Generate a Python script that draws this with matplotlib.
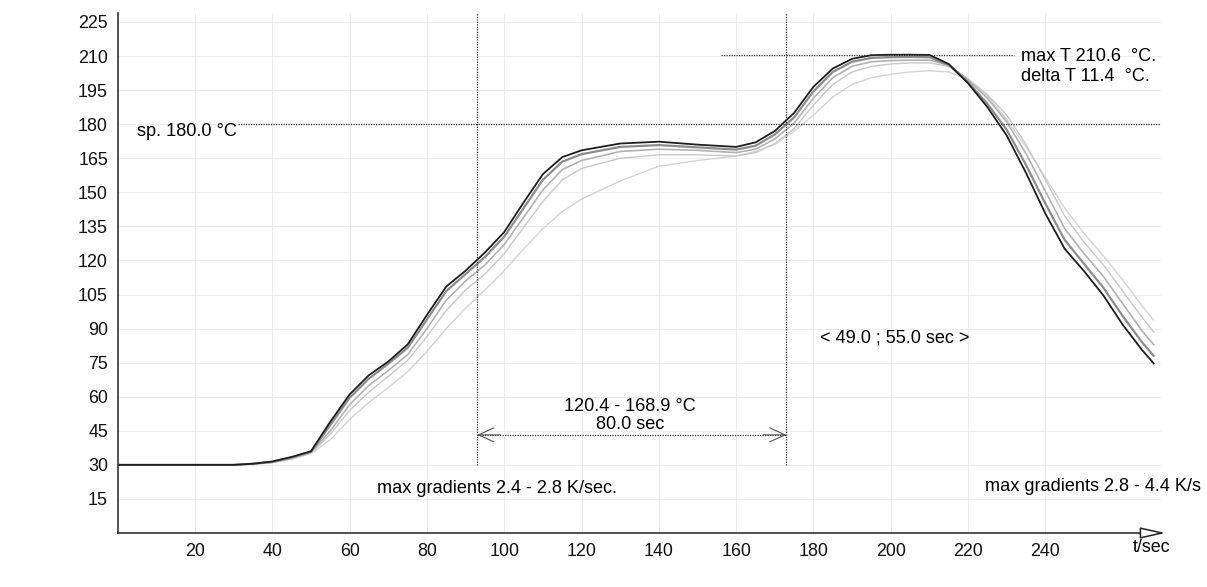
import matplotlib
matplotlib.use("Agg")
import matplotlib.pyplot as plt

plt.rcParams['font.family'] = ['Liberation Sans', 'DejaVu Sans']

# ---- data ----
t_sec = [0, 10, 20, 30, 35, 40, 45, 50, 55, 60, 65, 70, 75, 80, 85, 90, 95, 100, 105, 110,
         115, 120, 130, 140, 150, 160, 165, 170, 175, 180, 185, 190, 195, 200, 205, 210,
         215, 220, 225, 230, 235, 240, 245, 250, 255, 260, 265, 268]

sensor1 = [30, 30, 30, 30, 30.5, 31.5, 33.5, 36, 49, 61, 69.5, 75.5, 83, 96, 108.5, 115.5,
           123.5, 132.5, 145.5, 158, 165.5, 168.5, 171.5, 172.3, 171, 170, 172, 177, 185, 196.5,
           204.5, 208.8, 210.4, 210.6, 210.6, 210.5, 206.5, 198, 187.5, 175, 158.5, 140.6,
           125.1, 115.3, 104.6, 91.7, 80.6, 74.7]
sensor2 = [30, 30, 30, 30, 30.5, 31.3, 33.2, 35.8, 47.5, 59.5, 68, 74.5, 81.5, 94, 106.5, 114,
           121.5, 130.5, 143, 155.5, 163.5, 166.8, 170, 170.8, 169.8, 168.8, 170.5, 175.5, 183, 194.5,
           203, 207.5, 209.2, 209.5, 209.6, 209.5, 206, 198.5, 189, 177.5, 162, 145,
           129, 118.5, 108, 95.5, 84, 78]
sensor3 = [30, 30, 30, 30, 30.4, 31.2, 33, 35.5, 45, 56.5, 65, 71.5, 78.5, 90, 102.5, 111,
           118, 127, 139, 151, 160, 164, 168, 169, 168.5, 167.5, 169, 173.5, 180.5, 191.5,
           200.5, 205.5, 207.5, 208, 208.2, 208.2, 206, 199.5, 191.5, 181, 167, 150.5,
           134, 123, 113, 101, 89, 83]
sensor4 = [30, 30, 30, 30, 30.4, 31, 32.7, 35.2, 43.5, 54, 62, 69, 76, 86.5, 98, 107,
           114, 123, 134.5, 146, 155.5, 160.5, 165, 166.5, 166.5, 166, 167.5, 171.5, 178, 188.5,
           197.5, 203, 205.5, 206.5, 207, 207, 205.5, 200, 193, 184, 171, 155.5,
           139.5, 128, 118, 106.5, 95, 88.5]
sensor5 = [30, 30, 30, 30, 30.3, 31, 32.5, 35, 41, 50, 57.5, 64, 71, 80, 90, 99,
           107, 115.5, 125, 134, 141.5, 147, 155, 161.5, 164, 166, 168, 171, 177, 184,
           192, 197.5, 200.5, 202, 203, 203.5, 203, 199.5, 192.5, 182, 170, 156.5,
           143, 132, 122, 111.5, 100, 93.8]

x_ticks = [20, 40, 60, 80, 100, 120, 140, 160, 180, 200, 220, 240]
y_ticks = [15, 30, 45, 60, 75, 90, 105, 120, 135, 150, 165, 180, 195, 210, 225]

setpoint = 180.0
max_T = 210.6
t_enter, t_exit = 93.0, 173.0
window_T = 30

# ---- figure ----
fig = plt.figure(figsize=(12.07, 5.87), dpi=100)
ax = fig.add_axes([0.0975, 0.092, 0.8647, 0.886])
ax.set_xlim(0, 270)
ax.set_ylim(0, 229)

for s in ['top', 'right', 'bottom']:
    ax.spines[s].set_visible(False)
ax.spines['left'].set_color('#333333')
ax.spines['left'].set_linewidth(1.2)

ax.set_xticks(x_ticks)
ax.set_yticks(y_ticks)
ax.tick_params(length=0, labelsize=12.9, colors='#111111')
ax.tick_params(axis='x', pad=7)
ax.tick_params(axis='y', pad=7)

ax.grid(True, color='#ececec', linewidth=0.7)
ax.set_axisbelow(True)

# x axis with open arrow
ax.annotate('', xy=(271, 0), xytext=(0, 0), xycoords='data',
            arrowprops=dict(arrowstyle='-|>,head_length=1.1,head_width=0.25', fc='white',
                            ec='#222222', lw=1.1, mutation_scale=14, shrinkA=0, shrinkB=0),
            annotation_clip=False)
ax.text(267.5, -6.5, 't/sec', ha='center', va='center', fontsize=12.9, clip_on=False)

# curves
ax.plot(t_sec, sensor5, color='#d4d4d4', lw=1.0)
ax.plot(t_sec, sensor4, color='#c8c8c8', lw=1.0)
ax.plot(t_sec, sensor3, color='#b2b2b2', lw=1.2)
ax.plot(t_sec, sensor2, color='#8c8c8c', lw=1.6)
ax.plot(t_sec, sensor1, color='#1e1e1e', lw=1.3)

dot = dict(color='#333333', lw=0.9, linestyle=(0, (1, 1)))
ax.plot([31, 270], [setpoint, setpoint], **dot)
ax.plot([156, 232], [max_T, max_T], **dot)
ax.plot([t_enter, t_enter], [window_T, 229], **dot)
ax.plot([t_exit, t_exit], [window_T, 229], **dot)

# dimension arrow
arrow_T = 43.2
ax.plot([t_enter, t_exit], [arrow_T, arrow_T], **dot)
for a, b in [(t_enter, t_enter + 6), (t_exit, t_exit - 6)]:
    ax.annotate('', xy=(a, arrow_T), xytext=(b, arrow_T),
                arrowprops=dict(arrowstyle='->,head_length=0.55,head_width=0.25',
                                color='#555555', lw=0.8, mutation_scale=20,
                                shrinkA=0, shrinkB=0))

fs = 13.1
ax.text(5, 177, 'sp. 180.0 °C', ha='left', va='center', fontsize=fs)
ax.text(233.7, 209.7, 'max T 210.6  °C.', ha='left', va='center', fontsize=fs)
ax.text(233.7, 201.0, 'delta T 11.4  °C.', ha='left', va='center', fontsize=fs)
ax.text(132.6, 55.6, '120.4 - 168.9 °C', ha='center', va='center', fontsize=fs)
ax.text(132.6, 47.6, '80.0 sec', ha='center', va='center', fontsize=fs)
ax.text(67.1, 19.8, 'max gradients 2.4 - 2.8 K/sec.', ha='left', va='center', fontsize=fs)
ax.text(224.5, 20.4, 'max gradients 2.8 - 4.4 K/s', ha='left', va='center', fontsize=fs,
        clip_on=False)
ax.text(181.7, 85.9, '< 49.0 ; 55.0 sec >', ha='left', va='center', fontsize=fs)

fig.savefig('out.png', dpi=100)
